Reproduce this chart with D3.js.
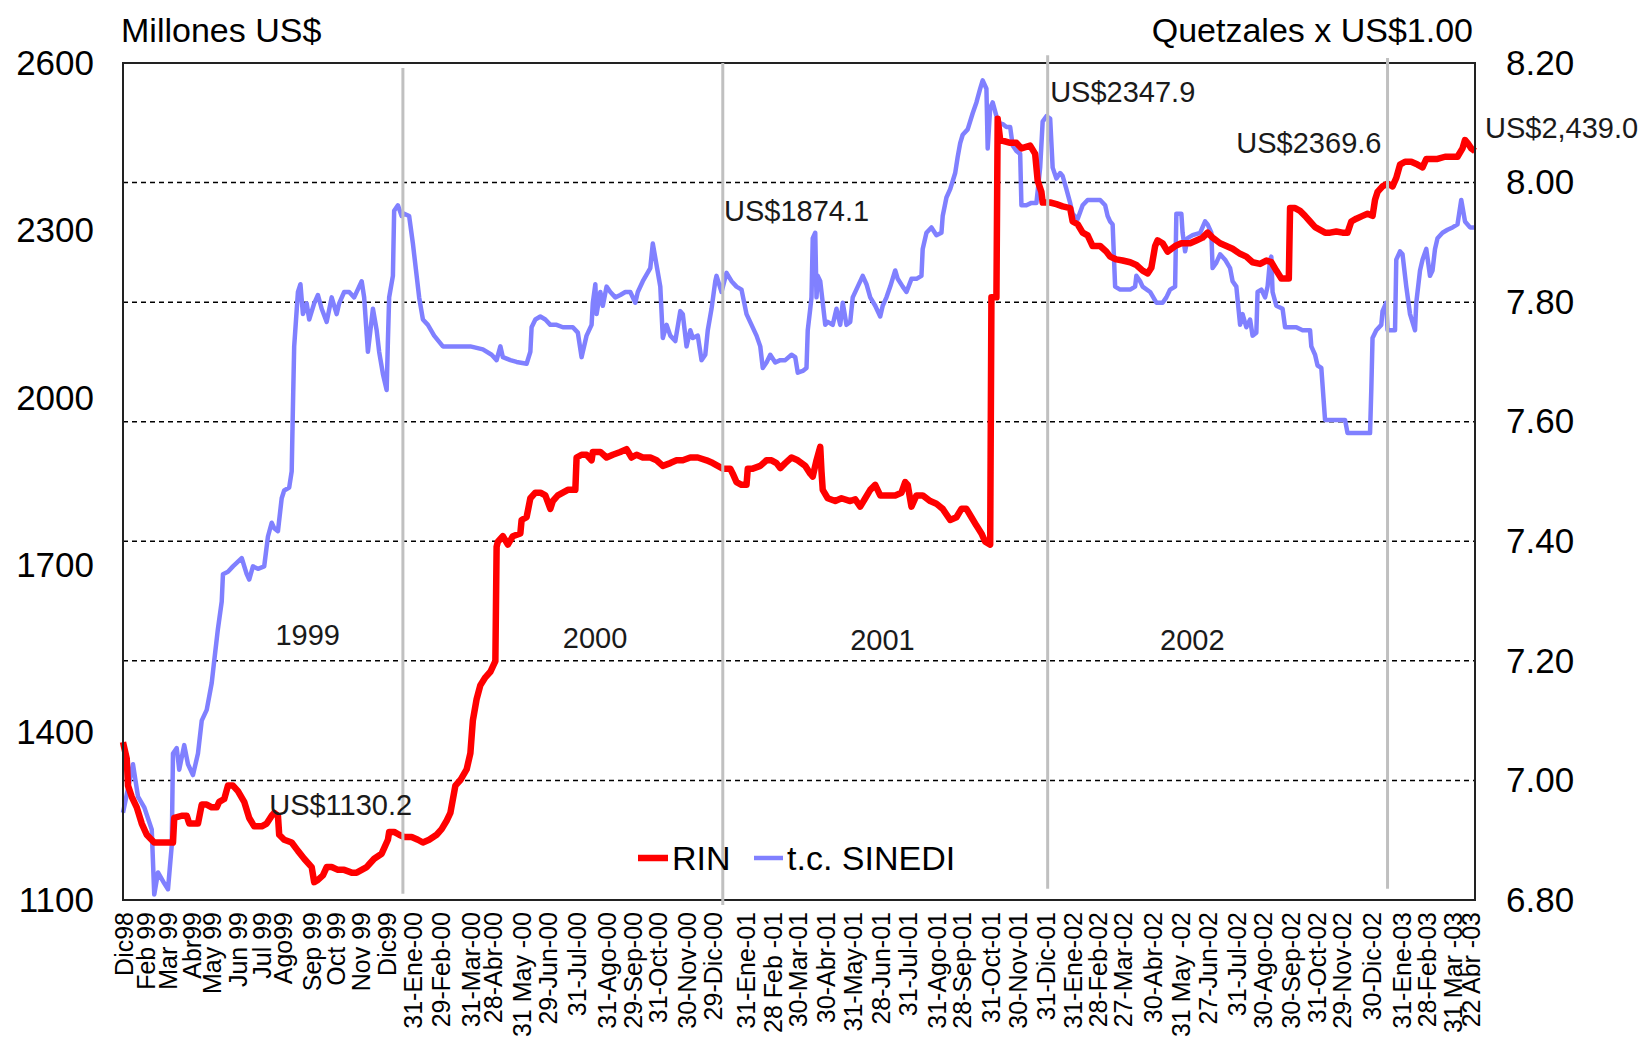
<!DOCTYPE html>
<html>
<head>
<meta charset="utf-8">
<script src="https://cdn.jsdelivr.net/npm/d3@7"></script>
<style>
  body { margin: 0; background: #fff; }
  text { font-family: "Liberation Sans", Arial, sans-serif; }
</style>
</head>
<body>
<div id="chart"></div>
<script>

// x axis = observation number (daily series, category axis)
var nObs = 1082;

// category labels and the observation they sit on
var xLabels = ["Dic98", "Feb 99", "Mar 99", "Abr99", "May 99", "Jun 99", "Jul 99", "Ago99",
  "Sep 99", "Oct 99", "Nov 99", "Dic99", "31-Ene-00", "29-Feb-00", "31-Mar-00", "28-Abr-00",
  "31 May -00", "29-Jun-00", "31-Jul-00", "31-Ago-00", "29-Sep-00", "31-Oct-00", "30-Nov-00",
  "29-Dic-00", "31-Ene-01", "28 Feb -01", "30-Mar-01", "30-Abr-01", "31-May-01", "28-Jun-01",
  "31-Jul-01", "31-Ago-01", "28-Sep-01", "31-Oct-01", "30-Nov-01", "31-Dic-01", "31-Ene-02",
  "28-Feb-02", "27-Mar-02", "30-Abr-02", "31 May -02", "27-Jun-02", "31-Jul-02", "30-Ago-02",
  "30-Sep-02", "31-Oct-02", "29-Nov-02", "30-Dic-02", "31-Ene-03", "28-Feb-03", "31 Mar -03",
  "22 Abr -03"];
var xLabelObs = [0, 18, 36, 55, 71, 92, 111, 128, 151, 170, 190, 211, 232, 254, 278, 296,
  319, 340, 363, 387, 408, 428, 451, 472, 498, 520, 540, 562, 584, 606, 628, 651, 671, 694,
  716, 738, 760, 780, 800, 824, 846, 868, 891, 912, 934, 955, 975, 999, 1023, 1043, 1064, 1078];

var leftTicks = [1100, 1400, 1700, 2000, 2300, 2600];
var rightTicks = [6.8, 7.0, 7.2, 7.4, 7.6, 7.8, 8.0, 8.2];

// RIN, millones US$ : [obs, value]
var rin = [
  [0,1383],[3,1353],[4,1305],[7,1285],[11,1266],[15,1237],[19,1217],[25,1203],[33,1203],[40,1203],
  [41,1247],[47,1251],[51,1251],[53,1237],[60,1237],[63,1271],[67,1271],[71,1266],[75,1266],[77,1276],
  [81,1281],[84,1305],[88,1305],[92,1295],[97,1276],[101,1247],[105,1232],[111,1232],[115,1237],[119,1251],
  [121,1256],[124,1251],[125,1217],[129,1208],[135,1203],[140,1188],[145,1174],[151,1159],[153,1132],[156,1136],
  [160,1144],[163,1159],[167,1159],[172,1154],[177,1154],[183,1149],[187,1149],[191,1154],[195,1159],[197,1164],
  [201,1174],[207,1183],[209,1193],[212,1208],[213,1222],[217,1222],[221,1217],[225,1213],[231,1213],[236,1208],
  [240,1203],[245,1208],[251,1217],[255,1227],[259,1242],
  [262,1256],[266,1305],[270,1315],[275,1334],[278,1363],[280,1422],[283,1460],[286,1485],[290,1499],[294,1509],
  [298,1528],[299,1733],[300,1742],[304,1752],[308,1737],[312,1752],[318,1757],[319,1781],[323,1786],[326,1820],
  [330,1830],[334,1830],[338,1825],[342,1801],[344,1815],[348,1825],[352,1830],[356,1835],[362,1835],[363,1893],
  [367,1898],[371,1898],[375,1888],[376,1903],[382,1903],[387,1893],[392,1898],[398,1903],[403,1908],[407,1893],
  [411,1898],[416,1893],[422,1893],[427,1888],[432,1878],[438,1883],[443,1888],[448,1888],[454,1893],[460,1893],
  [467,1888],[472,1883],[476,1878],[480,1873],[486,1873],[488,1864],[491,1849],[495,1844],[499,1844],[500,1873],
  [504,1873],[510,1878],[515,1888],[519,1888],[523,1883],
  [526,1874],[530,1883],[535,1893],[540,1888],[546,1878],[550,1864],[552,1859],[555,1888],[558,1912],[559,1868],
  [560,1835],[564,1820],[570,1815],[575,1820],[582,1815],[586,1818],[590,1805],[594,1820],[598,1835],[602,1844],
  [606,1825],[611,1825],[618,1825],[623,1830],[626,1849],[628,1844],[631,1805],[635,1825],[640,1825],[646,1815],
  [651,1810],[656,1801],[662,1781],[667,1786],[671,1801],[675,1801],[679,1786],[683,1771],[687,1757],[690,1742],
  [694,1737],[695,2180],[699,2180],[700,2500],[702,2462],[710,2457],[715,2457],[719,2447],[726,2452],[730,2437],
  [732,2389],[735,2369],[736,2350],[742,2350],[747,2347],[752,2343],[758,2340],[760,2316],[764,2311],[768,2296],
  [772,2291],[776,2272],[782,2272],[787,2262],
  [790,2253],[795,2248],[800,2246],[806,2243],[811,2238],[816,2228],[820,2223],[823,2233],[826,2272],[828,2282],
  [832,2277],[836,2262],[842,2272],[847,2277],[854,2277],[859,2282],[864,2287],[868,2296],[872,2287],[878,2277],
  [883,2272],[888,2267],[894,2258],[899,2253],[904,2243],[910,2240],[915,2246],[919,2243],[923,2228],[927,2214],
  [933,2214],[934,2340],[938,2340],[942,2335],[946,2326],[950,2316],[954,2306],[958,2301],[962,2296],[966,2296],
  [971,2298],[976,2296],[980,2296],[983,2316],[987,2321],[992,2326],[996,2330],[1000,2326],[1002,2355],[1004,2369],
  [1008,2379],[1012,2384],[1016,2379],[1019,2394],[1022,2418],[1026,2423],[1031,2423],[1036,2418],[1040,2413],[1043,2428],
  [1047,2428],[1052,2428],[1058,2432],[1063,2432],[1068,2432],[1072,2447],[1074,2462],[1076,2457],[1079,2447],[1082,2442]
];

// t.c. SINEDI, quetzales x US$1.00 : [obs, value]
var tc = [
  [0,6.946],[8,7.027],[12,6.973],[17,6.955],[23,6.918],[25,6.809],[28,6.846],[33,6.828],[36,6.818],[39,6.891],
  [40,7.045],[43,7.054],[45,7.018],[49,7.059],[52,7.027],[56,7.009],[60,7.045],[63,7.100],[67,7.118],[71,7.163],
  [73,7.200],[76,7.254],[79,7.299],[80,7.345],[84,7.349],[88,7.358],[95,7.372],[99,7.345],[101,7.336],[104,7.358],
  [108,7.354],[113,7.358],[116,7.408],[119,7.431],[121,7.422],[124,7.417],[127,7.472],[129,7.485],[133,7.490],[135,7.517],
  [136,7.626],[137,7.726],[140,7.817],[142,7.830],[144,7.780],[147,7.798],[149,7.771],[153,7.798],[156,7.812],[159,7.789],
  [163,7.767],[167,7.808],[171,7.780],[173,7.798],[177,7.817],[181,7.817],[185,7.808],[191,7.835],[193,7.808],[196,7.717],
  [199,7.771],[200,7.789],[203,7.753],[205,7.717],[208,7.680],[211,7.653],[212,7.735],[213,7.808],[216,7.844],[217,7.953],
  [220,7.962],[223,7.944],[225,7.948],[229,7.944],[232,7.898],[235,7.844],[237,7.808],[240,7.771],[244,7.762],[249,7.744],
  [256,7.726],
  [262,7.726],[278,7.726],[288,7.721],[295,7.712],[299,7.703],[302,7.726],[304,7.708],[310,7.703],[315,7.700],[323,7.697],
  [326,7.717],[327,7.758],[330,7.771],[334,7.776],[338,7.771],[342,7.762],[347,7.762],[352,7.758],[360,7.758],[364,7.749],
  [367,7.708],[368,7.717],[371,7.744],[375,7.762],[376,7.799],[378,7.830],[379,7.780],[382,7.817],[384,7.794],[387,7.826],
  [390,7.817],[394,7.808],[398,7.812],[402,7.817],[406,7.817],[410,7.799],[412,7.817],[416,7.835],[422,7.857],[424,7.898],
  [427,7.862],[430,7.826],[432,7.740],[435,7.762],[438,7.744],[442,7.735],[446,7.785],[448,7.780],[451,7.726],[454,7.753],
  [456,7.740],[460,7.744],[463,7.703],[466,7.712],[468,7.753],[471,7.789],[474,7.835],[475,7.844],[479,7.817],[483,7.849],
  [487,7.835],[491,7.826],[495,7.821],[499,7.780],[503,7.762],[507,7.744],[510,7.726],[512,7.690],[515,7.699],[518,7.712],
  [522,7.699],
  [526,7.703],[530,7.703],[535,7.712],[538,7.708],[540,7.682],[544,7.685],[547,7.690],[548,7.753],[550,7.789],[551,7.808],
  [552,7.907],[554,7.916],[555,7.808],[556,7.844],[558,7.835],[560,7.799],[562,7.762],[564,7.767],[568,7.762],[571,7.789],
  [574,7.762],[576,7.799],[579,7.762],[582,7.767],[584,7.808],[588,7.826],[592,7.844],[595,7.830],[598,7.808],[602,7.794],
  [606,7.776],[608,7.794],[611,7.808],[614,7.826],[618,7.853],[620,7.839],[624,7.826],[627,7.817],[631,7.839],[635,7.839],
  [639,7.844],[640,7.889],[643,7.916],[647,7.925],[651,7.912],[655,7.916],[656,7.944],[659,7.975],[662,7.989],[666,8.016],
  [668,8.043],[670,8.066],[672,8.080],[676,8.089],[680,8.116],[683,8.134],[686,8.157],[688,8.171],[691,8.157],[692,8.057],
  [694,8.125],[696,8.134],[699,8.111],[702,8.098],[704,8.098],[707,8.093],[710,8.093],[712,8.062],[715,8.053],[718,8.048],
  [719,7.962],[723,7.962],[727,7.966],[731,7.966],[734,8.025],[736,8.102],[739,8.111],[742,8.107],[744,8.025],[747,8.007],
  [750,8.016],[752,8.011],[755,7.989],[758,7.966],[760,7.948],[764,7.939],[768,7.962],[772,7.971],[776,7.971],[782,7.971],
  [786,7.962],[788,7.944],
  [790,7.935],[792,7.930],[794,7.826],[798,7.821],[806,7.821],[810,7.826],[811,7.844],[814,7.835],[816,7.826],[822,7.817],
  [827,7.799],[832,7.799],[835,7.808],[838,7.821],[842,7.826],[843,7.948],[847,7.948],[848,7.916],[850,7.885],[852,7.907],
  [856,7.912],[862,7.916],[866,7.935],[868,7.930],[871,7.916],[872,7.857],[875,7.866],[878,7.880],[882,7.871],[886,7.857],
  [888,7.835],[891,7.826],[894,7.762],[896,7.780],[899,7.758],[902,7.771],[904,7.744],[907,7.749],[908,7.817],[911,7.821],
  [914,7.808],[916,7.826],[918,7.871],[919,7.876],[920,7.817],[923,7.794],[928,7.789],[930,7.758],[939,7.758],[944,7.753],
  [950,7.753],[951,7.726],[954,7.712],[956,7.694],[959,7.690],[962,7.603],[971,7.603],[978,7.603],[980,7.581],[988,7.581],
  [998,7.581],[999,7.653],[1000,7.740],[1003,7.753],[1007,7.762],[1008,7.785],[1011,7.799],[1012,7.753],[1018,7.753],[1019,7.871],
  [1022,7.885],[1024,7.880],[1027,7.826],[1030,7.780],[1034,7.753],[1035,7.799],[1038,7.853],[1040,7.871],[1043,7.889],[1046,7.844],
  [1048,7.853],[1050,7.889],[1052,7.907],[1056,7.916],[1060,7.921],[1064,7.925],[1068,7.930],[1071,7.971],[1074,7.935],[1078,7.925],
  [1082,7.925]
];

// value callouts (placed at obs / RIN value)
var noteTexts = ["US$1130.2", "US$1874.1", "US$2347.9", "US$2369.6", "US$2,439.0"];
var noteObs = [117, 481, 742, 891, 1090];
var noteRin = [1252, 2317, 2530, 2439, 2466];

// year labels and year separator lines
var years = ["1999", "2000", "2001", "2002"];
var yearObs = [122, 352, 582, 830];
var yearRin = [1557, 1552, 1548, 1548];
var yearLineObs = [224, 480, 740, 1012];
var yearLineTop = [2591, 2600, 2614, 2609];
var yearLineBottom = [1111, 1091, 1120, 1120];


// set the dimensions and margins of the graph
var margin = {top: 63, right: 171, bottom: 139, left: 123},
    width = 1646 - margin.left - margin.right,
    height = 1039 - margin.top - margin.bottom;

var root = d3.select("#chart")
  .append("svg")
    .attr("width", 1646)
    .attr("height", 1039)
    .style("background", "#fff");

var svg = root.append("g")
    .attr("transform", "translate(" + margin.left + "," + margin.top + ")");

var x = d3.scaleLinear().domain([0, nObs]).range([0, width]);
var yL = d3.scaleLinear().domain([1100, 2600]).range([height, 0]);
var yR = d3.scaleLinear().domain([6.8, 8.2]).range([height, 0]);

// dashed gridlines on the right axis values
svg.selectAll(".grid")
  .data(rightTicks.filter(function(d) { return d > 6.8 && d < 8.2; }))
  .enter().append("line")
    .attr("x1", 0).attr("x2", width)
    .attr("y1", function(d) { return yR(d); })
    .attr("y2", function(d) { return yR(d); })
    .attr("stroke", "#000")
    .attr("stroke-width", 1.5)
    .attr("stroke-dasharray", "5,4");

// lines
var lineTc = d3.line()
  .x(function(d) { return x(d[0]); })
  .y(function(d) { return yR(d[1]); });
var lineRin = d3.line()
  .x(function(d) { return x(d[0]); })
  .y(function(d) { return yL(d[1]); });

svg.append("path")
  .datum(tc)
  .attr("fill", "none")
  .attr("stroke", "#8080FF")
  .attr("stroke-width", 4.5)
  .attr("stroke-linejoin", "round")
  .attr("d", lineTc);

svg.append("path")
  .datum(rin)
  .attr("fill", "none")
  .attr("stroke", "#FF0000")
  .attr("stroke-width", 6.5)
  .attr("stroke-linejoin", "round")
  .attr("d", lineRin);

// frame
svg.append("rect")
  .attr("width", width).attr("height", height)
  .attr("fill", "none")
  .attr("stroke", "#222")
  .attr("stroke-width", 2);

// left axis
var gL = svg.append("g")
  .call(d3.axisLeft(yL).tickValues(leftTicks).tickFormat(d3.format("d")).tickSize(0).tickPadding(29));
gL.select(".domain").remove();
gL.selectAll("text").attr("font-size", 35).attr("fill", "#000")
  .attr("font-family", "'Liberation Sans', Arial, sans-serif");

// right axis
var gR = svg.append("g")
  .attr("transform", "translate(" + width + ",0)")
  .call(d3.axisRight(yR).tickValues(rightTicks).tickFormat(d3.format(".2f")).tickSize(0).tickPadding(31));
gR.select(".domain").remove();
gR.selectAll("text").attr("font-size", 35).attr("fill", "#000")
  .attr("font-family", "'Liberation Sans', Arial, sans-serif");

// bottom axis, rotated category labels
var gX = svg.append("g")
  .attr("transform", "translate(0," + height + ")")
  .call(d3.axisBottom(x).tickValues(xLabelObs)
    .tickFormat(function(d, i) { return xLabels[i]; }).tickSize(0));
gX.select(".domain").remove();
gX.selectAll("text")
  .attr("font-size", 25)
  .attr("fill", "#000")
  .attr("font-family", "'Liberation Sans', Arial, sans-serif")
  .attr("transform", "rotate(-90)")
  .attr("text-anchor", "end")
  .attr("x", -12)
  .attr("y", 0)
  .attr("dy", "0.36em");

// year separators
svg.selectAll(".yearline")
  .data(yearLineObs)
  .enter().append("line")
    .attr("x1", function(d) { return x(d); })
    .attr("x2", function(d) { return x(d); })
    .attr("y1", function(d, i) { return yL(yearLineTop[i]); })
    .attr("y2", function(d, i) { return yL(yearLineBottom[i]); })
    .attr("stroke", "#c0c0c0")
    .attr("stroke-width", 3);

// year labels
svg.selectAll(".year")
  .data(years)
  .enter().append("text")
    .attr("x", function(d, i) { return x(yearObs[i]); })
    .attr("y", function(d, i) { return yL(yearRin[i]); })
    .attr("font-size", 29)
    .attr("fill", "#1a1a1a")
    .text(function(d) { return d; });

// callouts
svg.selectAll(".note")
  .data(noteTexts)
  .enter().append("text")
    .attr("x", function(d, i) { return x(noteObs[i]); })
    .attr("y", function(d, i) { return yL(noteRin[i]); })
    .attr("font-size", 29)
    .attr("fill", "#1a1a1a")
    .text(function(d) { return d; });

// axis titles
root.append("text")
  .attr("x", 121).attr("y", 42)
  .attr("font-size", 34)
  .attr("fill", "#000")
  .text("Millones US$");

root.append("text")
  .attr("x", 1473).attr("y", 42)
  .attr("text-anchor", "end")
  .attr("font-size", 34)
  .attr("fill", "#000")
  .text("Quetzales x US$1.00");

// legend
var legend = root.append("g").attr("transform", "translate(638,858)");
legend.append("line").attr("x1", 0).attr("x2", 30).attr("y1", 0).attr("y2", 0)
  .attr("stroke", "#FF0000").attr("stroke-width", 6.5);
legend.append("text").attr("x", 34).attr("y", 12).attr("font-size", 34).attr("fill", "#000").text("RIN");
legend.append("line").attr("x1", 116).attr("x2", 145).attr("y1", 0).attr("y2", 0)
  .attr("stroke", "#8080FF").attr("stroke-width", 4.5);
legend.append("text").attr("x", 149).attr("y", 12).attr("font-size", 34).attr("fill", "#000").text("t.c. SINEDI");

</script>
</body>
</html>
